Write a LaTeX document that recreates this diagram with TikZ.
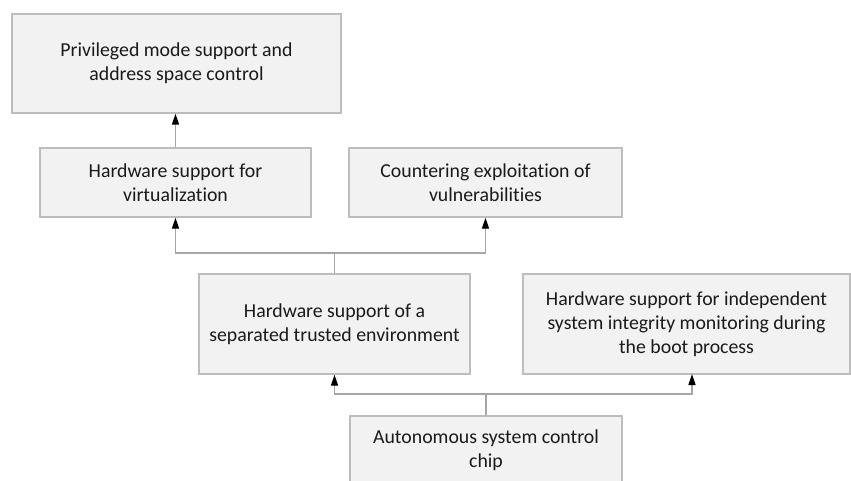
\documentclass[tikz,border=0pt]{standalone}
\usepackage{fontspec}
\setmainfont{Carlito}[Ligatures=NoCommon]
\usetikzlibrary{arrows.meta}
\definecolor{boxfill}{HTML}{F2F2F2}
\definecolor{boxline}{HTML}{BDBDBD}
\definecolor{linkline}{HTML}{A6A6A6}
\definecolor{textcol}{HTML}{1A1A1A}
\begin{document}
\begin{tikzpicture}[x=1pt,y=-1pt,
  block/.style={draw=boxline, line width=1.4pt, fill=boxfill, align=center,
    text=textcol, font=\fontsize{19.8pt}{23.8pt}\selectfont, inner sep=0pt},
  link/.style={draw=linkline, line width=1.4pt},
  uparrow/.style={link, -{Triangle[length=11pt,width=7pt,color=black]}}]
\useasboundingbox (0,0) rectangle (851,481);
\begin{scope}
\clip (0,0) rectangle (851,481);
\node[block, minimum width=329pt, minimum height=99pt] (b1) at (176.5,63.5) {Privileged mode support and\\address space control};
\node[block, minimum width=271pt, minimum height=69pt] (b2) at (175.5,182.5) {Hardware support for\\virtualization};
\node[block, minimum width=273pt, minimum height=69pt] (b3) at (485.5,182.5) {Countering exploitation of\\vulnerabilities};
\node[block, minimum width=271pt, minimum height=100pt] (b4) at (334.5,324) {Hardware support of a\\separated trusted environment};
\node[block, minimum width=327pt, minimum height=100pt] (b5) at (686.5,324) {Hardware support for independent\\system integrity monitoring during\\the boot process};
\node[block, minimum width=272pt, minimum height=69pt] (b6) at (486,450.5) {Autonomous system control\\chip};
\end{scope}

% virtualization feeds privileged mode
\draw[uparrow] (b2.north) -- (b2.north |- b1.south);

% trusted environment fans out upward
\coordinate (j1) at (334.5,253);
\draw[link] (b4.north) -- (j1);
\draw[uparrow] (j1) -| (b2.south);
\draw[uparrow] (j1) -| (b3.south);

% control chip fans out upward
\coordinate (j2) at (486,394);
\coordinate (t5) at (692,374);
\draw[link] (b6.north) -- (j2);
\draw[uparrow] (j2) -| (b4.south);
\draw[uparrow] (j2) -| (t5);
\end{tikzpicture}
\end{document}
